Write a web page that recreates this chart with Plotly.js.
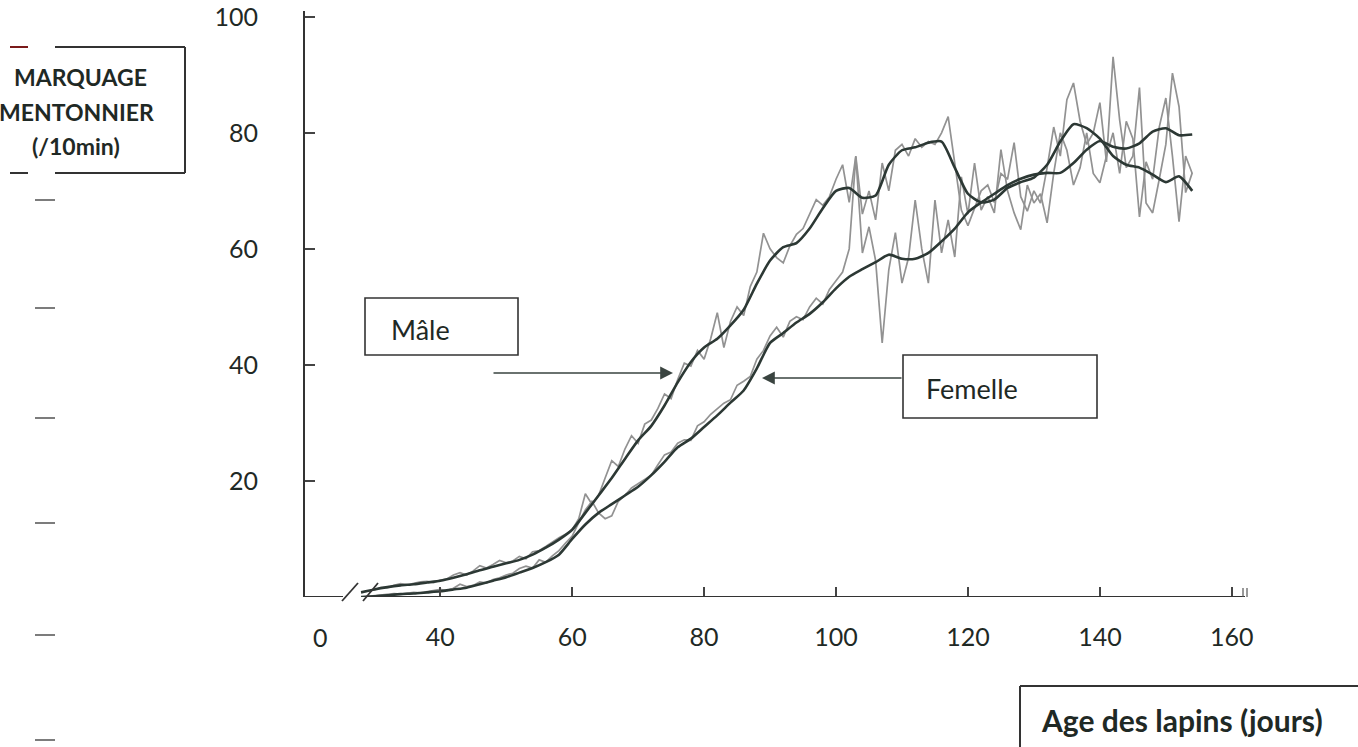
<!DOCTYPE html>
<html>
<head>
<meta charset="utf-8">
<script src="https://cdn.plot.ly/plotly-3.0.1.min.js"></script>
<style>html,body{margin:0;padding:0;background:#fff;}#chart{width:1358px;height:747px;}</style>
</head>
<body>
<div id="chart"></div>
<script>
// ---- Data ----
const smoothStartDay = 28, smoothStep = 2;
const maleSmooth = [0.8,1.3,1.7,2.0,2.2,2.5,2.8,3.3,3.9,4.6,5.2,5.8,6.4,7.3,8.5,9.9,11.6,
  14.5,17.5,20.5,23.8,27,29.5,33,37,40.5,43,44.5,46.8,49.5,54,58,60.3,61,63.5,67,70,
  70.5,68.8,69.2,74.5,77,77.5,78.3,78.5,74,69.5,68,68.5,70.5,71.5,72.3,74.5,78.5,81.5,80.8,79,76,74.5,74,72.8,71.5,72.5,70];
const femaleSmooth = [0,0.1,0.3,0.5,0.6,0.8,1.0,1.3,1.6,2.2,2.8,3.4,4.2,5.0,6.0,7.3,10,
  12.5,14.5,16,17.5,19,21,23.3,25.8,27.3,29.3,31.3,33.5,35.6,39.4,43.8,45.5,47.3,48.8,50.8,53.2,
  55.2,56.5,57.7,59,58.3,58.3,59.3,61.3,63.5,66.3,68,69.5,71,72.1,72.8,73.1,73.1,74.8,77.1,78.6,77.6,77.3,78.2,80.2,80.8,79.6,79.7];

const rawStartDay = 28;
const maleRaw = [0.8,1.0,1.2,1.6,1.6,2.0,2.3,2.1,2.4,2.6,
  2.7,2.5,2.9,3.1,3.8,4.2,3.8,4.5,5.4,5.0,
  5.6,6.3,5.9,6.2,7.0,6.6,7.8,8.0,8.7,9.5,
  10.2,10.8,11.6,13.5,17.8,16.0,17.5,20.5,23.5,22.5,
  25.5,27.8,26.5,29.8,30.5,32.5,35,34.2,37.5,40.3,
  39.8,42.5,41.0,44.5,49,43,47.5,50,48.5,53.5,
  56,62.7,60,58.5,57.6,60.5,62.5,63.5,66,68.5,
  67.5,69,72,74.5,68,76,66,70,65,74.8,
  70,77,78,76,79,77.5,78.5,78,80,82.8,
  74.8,66.7,64,67,70,71,68,73,72,78.3,
  69,66.5,70,67.9,74,81,76,85.7,88.6,82,
  78,80,85.2,75,93.1,82.2,74,76,87.8,67.9,
  66.2,72,78,90.3,84.5,69.7,73.1];
const femaleRaw = [0,0.1,0.2,0.3,0.4,0.6,0.5,0.7,0.8,0.7,
  0.9,1.0,1.3,1.1,1.5,2.2,1.8,2.0,2.6,2.4,
  3.0,3.3,3.8,4.1,4.9,5.3,5.0,6.4,6.0,7.1,
  8.0,9.3,10.5,12.8,15.0,16.5,14.5,13.5,14.0,16.5,
  17.5,18.8,19.5,20.3,21.0,22.8,24.5,25.0,26.5,27.1,
  27.0,29.5,30.2,31.5,32.5,33.4,34.0,36.5,37.2,38.0,
  41.0,42.5,45.0,46.5,44.8,47.5,48.3,47.8,50.0,51.5,
  50.5,53.0,54.5,56.0,60.0,75.9,59.3,63.8,58.0,43.8,
  56.4,62.8,54.1,58.5,68.4,60,54.1,68.4,59.3,65,
  58.6,72.4,66,74.8,66.7,69,66.2,77.1,70,66.2,
  63.3,71,67.9,69.5,64.5,73,80,77,71,74,
  80,73,71.4,76,80,73,82,79,65.5,75,
  72,81,86,76,64.7,76,73];

const xTickVals = [40,60,80,100,120,140,160];
const xTickText = ["40","60","80","100","120","140","160"];
const yTickVals = [20,40,60,80,100];
const yTickText = ["20","40","60","80","100"];
const zeroLabelDay = 21.8;   // position of the "0" label before the axis break

const yTitleLines = ["MARQUAGE","MENTONNIER","(/10min)"];
const xTitle = "Age des lapins (jours)";
const maleLabel = "Mâle", femaleLabel = "Femelle";

// ---- Build ----
const smoothDays = maleSmooth.map((_, i) => smoothStartDay + i * smoothStep);
const rawDays = maleRaw.map((_, i) => rawStartDay + i);

const DARK = "#2c3834", GRAY = "#929292", INK = "#1f2925";
const traces = [
  {x: rawDays, y: femaleRaw, mode: "lines", line: {color: GRAY, width: 1.7}, name: "Femelle brut"},
  {x: rawDays, y: maleRaw, mode: "lines", line: {color: GRAY, width: 1.7}, name: "Mâle brut"},
  {x: smoothDays, y: femaleSmooth, mode: "lines", line: {color: DARK, width: 2.6, shape: "spline", smoothing: 0.6}, name: "Femelle"},
  {x: smoothDays, y: maleSmooth, mode: "lines", line: {color: DARK, width: 2.6, shape: "spline", smoothing: 0.6}, name: "Mâle"}
];

const L = 305, R = 1245, T = 11, B = 597;
const px = v => (v - L) / (R - L);
const py = v => (B - v) / (B - T);

function pline(x0, y0, x1, y1, color, w) {
  return {type: "line", xref: "paper", yref: "paper", x0: px(x0), y0: py(y0), x1: px(x1), y1: py(y1),
          line: {color: color || "#333", width: w || 1.8}};
}

const shapes = [
  {type: "line", xref: "x", yref: "y", x0: 19.5, x1: 25.26, y0: 0, y1: 0, line: {color: "#333", width: 2.2}},
  {type: "line", xref: "x", yref: "y", x0: 28.9, x1: 162, y0: 0, y1: 0, line: {color: "#333", width: 2.2}},
  pline(342, 601, 358, 583, "#333", 1.8),
  pline(363, 601, 378, 583, "#333", 1.8),
  pline(1243, 597, 1243, 588, "#555", 1.2),
  pline(1247, 597, 1247, 588, "#555", 1.2),
  pline(10, 47, 28, 47, "#7a1a1a", 2),
  pline(55, 47, 185, 47, "#333", 2),
  pline(10, 173, 28, 173, "#333", 2),
  pline(55, 173, 185, 173, "#333", 2),
  pline(185, 47, 185, 173, "#333", 2),
  {type: "rect", xref: "paper", yref: "paper", x0: px(365), x1: px(518), y0: py(298), y1: py(355), line: {color: "#333", width: 1.6}},
  {type: "rect", xref: "paper", yref: "paper", x0: px(903), x1: px(1097), y0: py(355), y1: py(418), line: {color: "#333", width: 1.6}},
  pline(1020, 686, 1358, 686, "#333", 2),
  pline(1020, 686, 1020, 747, "#333", 2),
  pline(35, 200, 55, 200, "#444", 1.4),
  pline(35, 308, 55, 308, "#444", 1.4),
  pline(35, 418, 55, 418, "#444", 1.4),
  pline(35, 523, 55, 523, "#444", 1.4),
  pline(35, 635, 55, 635, "#444", 1.4),
  pline(35, 740, 55, 740, "#444", 1.4)
];

const FONT = "Lato, 'Noto Sans', sans-serif";
const annotations = [
  {xref: "x", yref: "paper", x: zeroLabelDay, y: py(637), text: "0", showarrow: false,
   font: {family: FONT, size: 25, color: INK}, xanchor: "center", yanchor: "middle"},
  {xref: "paper", yref: "paper", x: px(80), y: py(77), text: "<b>" + yTitleLines[0] + "</b>", showarrow: false,
   font: {family: FONT, size: 23, color: INK}, xanchor: "center", yanchor: "middle"},
  {xref: "paper", yref: "paper", x: px(76), y: py(112), text: "<b>" + yTitleLines[1] + "</b>", showarrow: false,
   font: {family: FONT, size: 23, color: INK}, xanchor: "center", yanchor: "middle"},
  {xref: "paper", yref: "paper", x: px(76), y: py(146), text: "<b>" + yTitleLines[2] + "</b>", showarrow: false,
   font: {family: FONT, size: 23, color: INK}, xanchor: "center", yanchor: "middle"},
  {xref: "paper", yref: "paper", x: px(389), y: py(329), text: maleLabel, showarrow: false,
   font: {family: FONT, size: 27, color: INK}, xanchor: "left", yanchor: "middle"},
  {xref: "paper", yref: "paper", x: px(924), y: py(388), text: femaleLabel, showarrow: false,
   font: {family: FONT, size: 27, color: INK}, xanchor: "left", yanchor: "middle"},
  {xref: "paper", yref: "paper", x: px(1039), y: py(720), text: "<b>" + xTitle + "</b>", showarrow: false,
   font: {family: FONT, size: 30, color: INK}, xanchor: "left", yanchor: "middle"},
  {xref: "paper", yref: "paper", x: px(673), y: py(373), ax: -181, ay: 0, text: "", showarrow: true,
   arrowhead: 2, arrowsize: 1.6, arrowwidth: 1.6, arrowcolor: "#3a4440"},
  {xref: "paper", yref: "paper", x: px(762), y: py(378), ax: 141, ay: 0, text: "", showarrow: true,
   arrowhead: 2, arrowsize: 1.6, arrowwidth: 1.6, arrowcolor: "#3a4440"}
];

const layout = {
  width: 1358, height: 747,
  margin: {l: L, r: 1358 - R, t: T, b: 747 - B, pad: 0},
  paper_bgcolor: "#fff", plot_bgcolor: "#fff",
  showlegend: false,
  font: {family: FONT, color: INK},
  xaxis: {range: [19.5, 162], showgrid: false, zeroline: false, showline: false,
          tickmode: "array", tickvals: xTickVals, ticktext: xTickText,
          ticks: "inside", ticklen: 10, tickwidth: 1.5, tickcolor: "#444",
          tickfont: {family: FONT, size: 25, color: INK}, ticklabelstandoff: 23},
  yaxis: {range: [0, 101], showgrid: false, zeroline: false, showline: true, linecolor: "#333", linewidth: 2,
          tickmode: "array", tickvals: yTickVals, ticktext: yTickText,
          ticks: "inside", ticklen: 10, tickwidth: 1.5, tickcolor: "#444",
          tickfont: {family: FONT, size: 25, color: INK}, ticklabelstandoff: 40},
  shapes: shapes,
  annotations: annotations
};

Plotly.newPlot("chart", traces, layout, {displayModeBar: false, staticPlot: true});
</script>
</body>
</html>
